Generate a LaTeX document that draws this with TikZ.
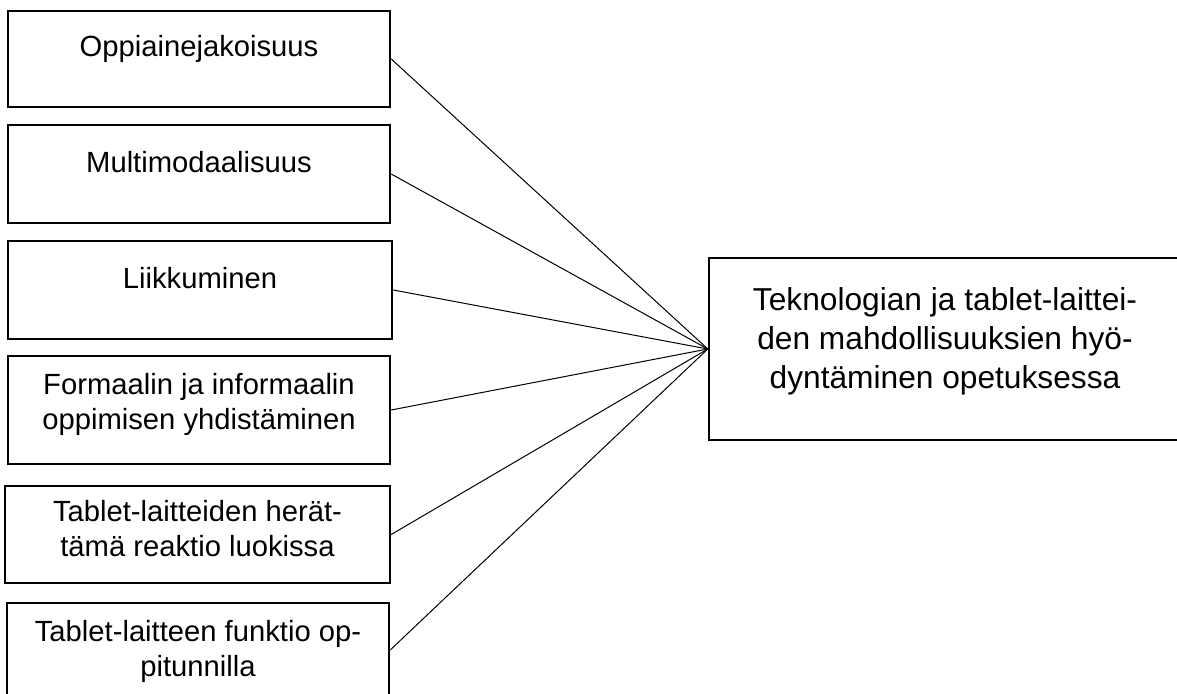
\documentclass[tikz,border=0pt]{standalone}
\usepackage{fontspec}
\setmainfont{Liberation Sans}
\begin{document}
\begin{tikzpicture}[x=1pt,y=1pt,
  box/.style={draw=black,line width=2.4pt,rectangle,inner sep=0pt},
  lbl/.style={anchor=north,inner sep=0pt,align=center,font=\fontsize{29.2}{35}\selectfont},
  rlbl/.style={anchor=north,inner sep=0pt,align=center,font=\fontsize{31.7}{39}\selectfont},
  conn/.style={draw=black,line width=1pt}]
\useasboundingbox (0,0) rectangle (1177,693);
% left boxes (image y flipped: tikz y = 693 - y)
\node[box,minimum width=382pt,minimum height=96pt] (b1) at (199,634) {};
\node[box,minimum width=382pt,minimum height=98pt] (b2) at (199,519) {};
\node[box,minimum width=384pt,minimum height=98pt] (b3) at (200,403) {};
\node[box,minimum width=382pt,minimum height=108pt] (b4) at (199,283) {};
\node[box,minimum width=385pt,minimum height=97pt] (b5) at (197.5,158.5) {};
\node[box,minimum width=382pt,minimum height=94pt] (b6) at (198,43) {};
\node[box,minimum width=472pt,minimum height=182pt] (r) at (945,344) {};
% texts
\node[lbl] (t1) at (199,657.5) {Oppiainejakoisuus};
\node[lbl] (t2) at (199,541.5) {Multimodaalisuus};
\node[lbl] (t3) at (200,425.5) {Liikkuminen};
\node[lbl] (t4) at (199,319.5) {Formaalin ja informaalin\\oppimisen yhdistäminen};
\node[lbl] (t5) at (197.5,192.5) {Tablet-laitteiden herät-\\tämä reaktio luokissa};
\node[lbl] (t6) at (198,72.5) {Tablet-laitteen funktio op-\\pitunnilla};
\node[rlbl] (tr) at (945,406) {Teknologian ja tablet-laittei-\\den mahdollisuuksien hyö-\\dyntäminen opetuksessa};
% connectors
\foreach \b in {b1,b2,b3,b4,b5,b6}{
  \draw[conn] (\b.east) -- (r.west);
}
\end{tikzpicture}
\end{document}
